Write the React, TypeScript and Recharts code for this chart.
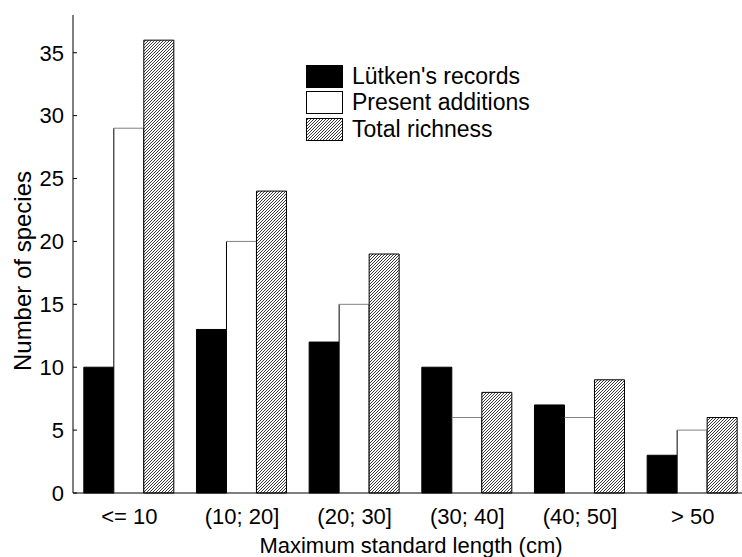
import { BarChart, Bar, XAxis, YAxis, Legend, Label } from 'recharts';

// categories and counts
const categories = ['<= 10', '(10; 20]', '(20; 30]', '(30; 40]', '(40; 50]', '> 50'];
const lutkenRecords = [10, 13, 12, 10, 7, 3];
const presentAdditions = [29, 20, 15, 6, 6, 5];
const totalRichness = [36, 24, 19, 8, 9, 6];
const yTicks = [0, 5, 10, 15, 20, 25, 30, 35];
const classEdges = [1, 2, 3, 4, 5];

const FONT = '"Liberation Sans", Arial, sans-serif';

const data = categories.map((name, i) => ({
  name,
  lutken: lutkenRecords[i],
  present: presentAdditions[i],
  total: totalRichness[i],
}));

// white bar: black sides, grey top edge
const WhiteBar = (props: any) => {
  const { x, y, width, height } = props;
  if (!height) return null;
  return (
    <g>
      <rect x={x} y={y} width={width} height={height} fill="#fff" />
      <line x1={x} y1={y} x2={x} y2={y + height} stroke="#000" />
      <line x1={x + width} y1={y} x2={x + width} y2={y + height} stroke="#000" />
      <line x1={x} y1={y} x2={x + width} y2={y} stroke="#808080" />
    </g>
  );
};

const legendItems: Record<string, { fill: string; stroke: string }> = {
  lutken: { fill: '#000', stroke: '#000' },
  present: { fill: '#fff', stroke: '#000' },
  total: { fill: 'url(#hatch)', stroke: '#000' },
};

const LegendContent = (props: any) => {
  const { payload = [] } = props;
  return (
    <div style={{ fontFamily: FONT, fontSize: 23, color: '#000' }}>
      {payload.map((p: any) => {
        const sw = legendItems[p.dataKey] || legendItems.lutken;
        return (
          <div key={p.dataKey} style={{ display: 'flex', alignItems: 'center', height: 26.5 }}>
            <svg width={37} height={23} style={{ display: 'block' }}>
              <rect x={0.5} y={0.5} width={36} height={22} fill={sw.fill} stroke={sw.stroke} />
            </svg>
            <span style={{ marginLeft: 9, lineHeight: '23px' }}>{p.value}</span>
          </div>
        );
      })}
    </div>
  );
};

export default function App() {
  return (
    <div>
      <style>{'html,body{margin:0;overflow:hidden}'}</style>
      <BarChart
        width={760}
        height={557}
        data={data}
        margin={{ top: 15, right: 11, left: 0, bottom: 0 }}
        barCategoryGap="9.6%"
        barGap={0}
        style={{ fontFamily: FONT }}
      >
        <defs>
          <pattern id="hatch" patternUnits="userSpaceOnUse" width={3} height={3}>
            <rect width={3} height={3} fill="#fff" />
            <path d="M-1,1 L1,-1 M0,3 L3,0 M2,4 L4,2" stroke="#222" strokeWidth={0.9} />
          </pattern>
        </defs>
        <XAxis
          xAxisId="edges"
          type="number"
          domain={[0, 6]}
          ticks={classEdges}
          allowDataOverflow
          height={0}
          axisLine={false}
          tickSize={-4}
          tickLine={{ stroke: '#000' }}
          tick={() => null}
        />
        <XAxis
          xAxisId="cat"
          dataKey="name"
          height={64}
          tickLine={false}
          tickSize={0}
          tickMargin={15}
          axisLine={{ stroke: '#000' }}
          tick={{ fill: '#000', fontSize: 22, fontFamily: FONT }}
          interval={0}
        >
          <Label
            content={(p: any) => {
              const vb = p.viewBox;
              return (
                <text x={vb.x + vb.width / 2} y={vb.y + 60} textAnchor="middle" fontSize={22} fontFamily={FONT} fill="#000">
                  Maximum standard length (cm)
                </text>
              );
            }}
          />
        </XAxis>
        <YAxis
          width={73}
          domain={[0, 38]}
          ticks={yTicks}
          interval={0}
          tickSize={-4}
          tickMargin={13}
          axisLine={{ stroke: '#000' }}
          tickLine={{ stroke: '#000' }}
          tick={{ fill: '#000', fontSize: 22, fontFamily: FONT }}
        >
          <Label
            content={(p: any) => {
              const vb = p.viewBox;
              const cx = 22;
              const cy = vb.y + vb.height / 2 + 17;
              return (
                <text x={cx} y={cy} transform={`rotate(-90 ${cx} ${cy})`} textAnchor="middle" dominantBaseline="central" fontSize={24} fontFamily={FONT} fill="#000">
                  Number of species
                </text>
              );
            }}
          />
        </YAxis>
        <Legend
          layout="vertical"
          align="center"
          verticalAlign="middle"
          content={<LegendContent />}
          wrapperStyle={{ top: 63, left: 306, width: 260 }}
        />
        <Bar xAxisId="cat" dataKey="lutken" name="Lütken's records" fill="#000" stroke="#000" isAnimationActive={false} />
        <Bar xAxisId="cat" dataKey="present" name="Present additions" fill="#fff" shape={<WhiteBar />} isAnimationActive={false} />
        <Bar xAxisId="cat" dataKey="total" name="Total richness" fill="url(#hatch)" stroke="#000" isAnimationActive={false} />
      </BarChart>
    </div>
  );
}
